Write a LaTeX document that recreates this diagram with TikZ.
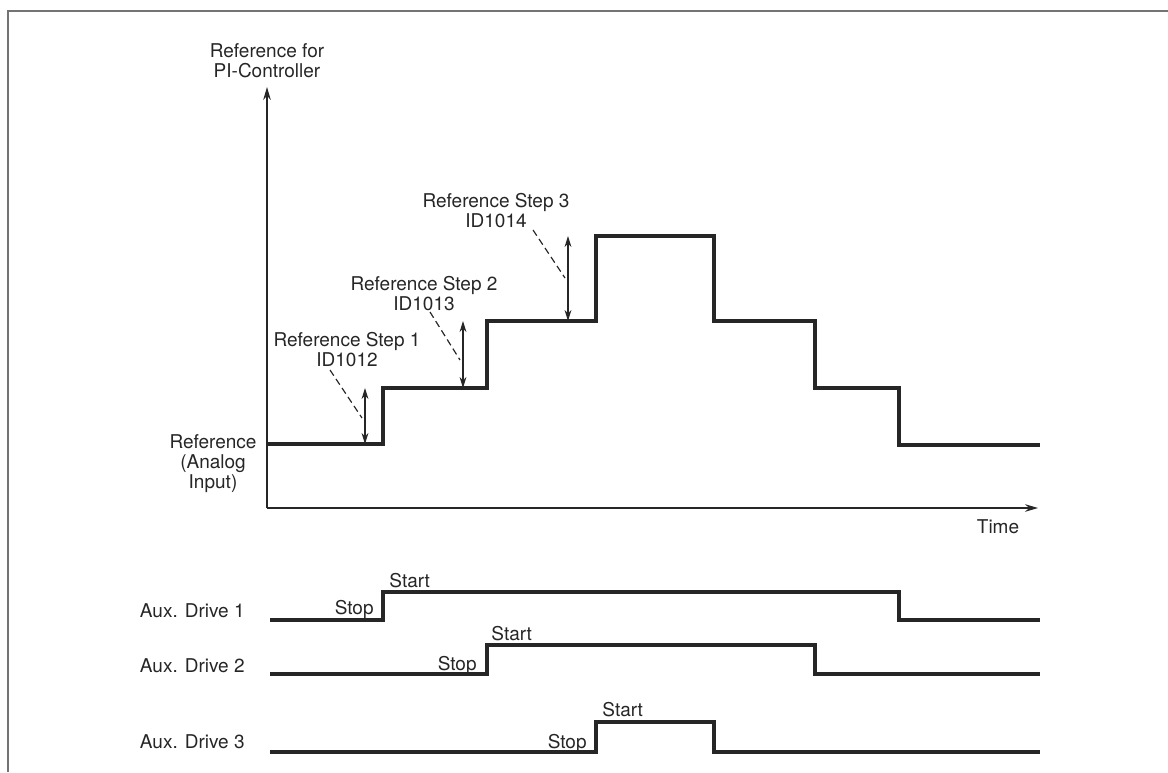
\documentclass[tikz,border=0pt]{standalone}
\usepackage{fontspec}
\setmainfont{TeX Gyre Heros}
\usepackage{xcolor}
\usetikzlibrary{arrows.meta, positioning, calc}
\tikzset{
  frame/.style = {draw=black!55, line width=1.2pt},
  axis/.style  = {-{Stealth[length=6.5pt, width=3.8pt]}, line width=0.7pt, draw=black!85},
  level/.style = {line width=1.6pt, draw=black!85},
  dim/.style   = {{Stealth[length=5.5pt, width=3.4pt]}-{Stealth[length=5.5pt, width=3.4pt]},
                  line width=0.6pt, draw=black!85},
  lead/.style  = {line width=0.6pt, draw=black!85, dash pattern=on 3.4pt off 2pt},
  txt/.style   = {font=\fontsize{9.5}{10}\selectfont, text=black!85, inner sep=1pt,
                  align=center}
}
\begin{document}
\begin{tikzpicture}[x=0.5pt, y=-0.5pt]
  \useasboundingbox (0,0) rectangle (1168,772);
  \draw[frame] (1168,11) -- (8,11) -- (8,772);
  % axes
  \coordinate (o)    at (267,508);
  \coordinate (ytop) at (267,87);
  \coordinate (xend) at (1038,508);
  \draw[axis] (o) -- (ytop);
  \draw[axis] (o) -- (xend);
  \node[txt] (ylab) at (267,61)  {Reference for\\PI-Controller};
  \node[txt] (time) at (998,527) {Time};
  \node[txt] (ain)  at (213,464) {Reference\\(Analog\\Input)};
  % reference steps
  \draw[level] (267,444) -| (383,388) -| (487,321) -| (596,236) -| (714,321)
               -| (815,388) -| (899,445) -- (1040,445);
  \node[txt] (s1) at (347,350) {Reference Step 1\\ID1012};
  \node[txt] (s2) at (424,294) {Reference Step 2\\ID1013};
  \node[txt] (s3) at (496,211) {Reference Step 3\\ID1014};
  \coordinate (d1a) at (365,444); \coordinate (d1b) at (365,388);
  \coordinate (d2a) at (463,388); \coordinate (d2b) at (463,321);
  \coordinate (d3a) at (568,321); \coordinate (d3b) at (568,236);
  \draw[dim] (d1a) -- (d1b); \draw[dim] (d2a) -- (d2b); \draw[dim] (d3a) -- (d3b);
  \coordinate (l1a) at (330,370); \coordinate (l1b) at (362,418);
  \coordinate (l2a) at (430,312); \coordinate (l2b) at (460,360);
  \coordinate (l3a) at (533,230); \coordinate (l3b) at (565,278);
  \draw[lead] (l1a) -- (l1b); \draw[lead] (l2a) -- (l2b); \draw[lead] (l3a) -- (l3b);
  % auxiliary drives
  \node[txt, anchor=base east] (aux1) at (247,617) {Aux. Drive 1};
  \node[txt, anchor=base east] (aux2) at (247,672) {Aux. Drive 2};
  \node[txt, anchor=base east] (aux3) at (247,748) {Aux. Drive 3};
  \draw[level] (270,620) -| (383,592) -| (899,620) -- (1040,620);
  \draw[level] (270,674) -| (487,645) -| (815,674) -- (1040,674);
  \draw[level] (270,752) -| (596,722) -| (714,752) -- (1040,752);
  \node[txt, anchor=base east] (stop1)  at (376,614) {Stop};
  \node[txt, anchor=base west] (start1) at (387,587) {Start};
  \node[txt, anchor=base east] (stop2)  at (479,670) {Stop};
  \node[txt, anchor=base west] (start2) at (489,640) {Start};
  \node[txt, anchor=base east] (stop3)  at (589,748) {Stop};
  \node[txt, anchor=base west] (start3) at (600,716) {Start};
\end{tikzpicture}
\end{document}
